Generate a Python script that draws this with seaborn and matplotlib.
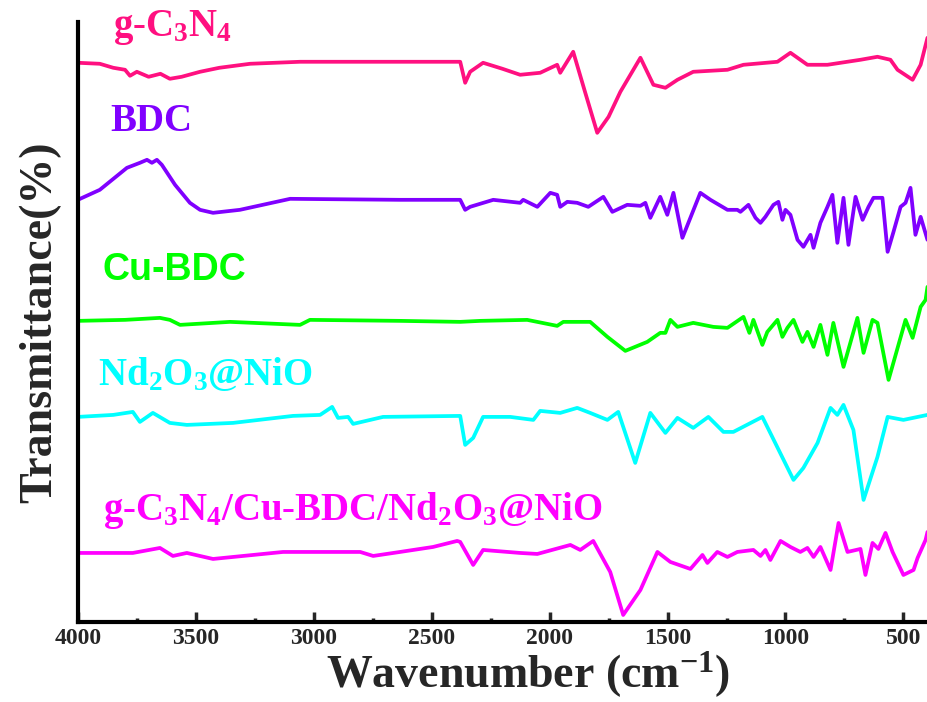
import numpy as np
import pandas as pd
import matplotlib
matplotlib.use("Agg")
import matplotlib.pyplot as plt
import seaborn as sns

# ---- data (wavenumber cm-1, transmittance a.u. with stacking offsets) ----
gcn_wn = [4000, 3907, 3850, 3800, 3779, 3750, 3700, 3650, 3610, 3560, 3482, 3400, 3270, 3058, 2800,
          2634, 2379, 2358, 2337, 2282, 2200, 2125, 2040, 1968, 1955, 1900, 1850, 1798, 1750,
          1700, 1615, 1560, 1509, 1458, 1391, 1246, 1178, 1034, 979, 907, 822, 682, 610, 555,
          525, 461, 427, 398]
gcn_t = [559, 558, 554, 552, 546, 550, 545, 548, 543, 545, 550, 554, 558, 560, 560,
         560, 560, 539, 550, 559, 553, 547, 549, 557, 549, 570, 530, 489, 505,
         530, 564, 537, 534, 542, 550, 552, 557, 560, 569, 557, 557, 562, 565, 562,
         552, 542, 557, 584]

bdc_wn = [4000, 3907, 3792, 3737, 3707, 3686, 3665, 3644, 3588, 3525, 3482, 3427, 3313, 3100,
          2634, 2379, 2358, 2337, 2239, 2125, 2112, 2052, 1997, 1968, 1955, 1925, 1883, 1836,
          1772, 1734, 1671, 1615, 1594, 1573, 1543, 1531, 1501, 1475, 1437, 1361, 1318, 1246,
          1204, 1191, 1157, 1127, 1106, 1085, 1051, 1030, 1013, 1000, 979, 949, 924, 894, 881,
          852, 822, 801, 780, 754, 733, 703, 673, 648, 627, 589, 567, 542, 512, 491, 470,
          449, 427, 398]
bdc_t = [422, 432, 454, 459, 462, 459, 462, 457, 437, 419, 412, 409, 412, 423,
         422, 422, 412, 415, 422, 419, 422, 415, 429, 427, 415, 420, 419, 415,
         425, 410, 417, 416, 419, 404, 419, 425, 407, 429, 384, 429, 422, 412,
         412, 410, 417, 404, 399, 405, 417, 420, 402, 412, 407, 382, 375, 387, 374,
         399, 415, 427, 379, 424, 377, 425, 402, 415, 424, 424, 370, 390, 415, 419, 434,
         387, 405, 382]

cu_wn = [4000, 3800, 3652, 3610, 3567, 3355, 3058, 3016, 2634, 2379, 2294, 2095, 1968, 1942,
         1828, 1755, 1679, 1586, 1531, 1509, 1488, 1458, 1391, 1306, 1246, 1178, 1153, 1136,
         1098, 1077, 1034, 1013, 992, 966, 928, 907, 881, 852, 822, 797, 754, 695, 669, 631,
         610, 563, 491, 461, 427, 406, 398]
cu_t = [301, 302, 304, 302, 297, 300, 297, 302, 301, 300, 301, 302, 296, 300,
        300, 285, 271, 280, 289, 289, 302, 295, 299, 295, 294, 305, 289, 302,
        277, 290, 302, 285, 294, 302, 280, 290, 275, 297, 267, 299, 255, 304, 269, 302,
        299, 242, 302, 284, 315, 322, 335]

nd_wn = [4000, 3850, 3767, 3737, 3682, 3610, 3538, 3342, 3088, 2973, 2922, 2897, 2854, 2833,
         2706, 2379, 2358, 2324, 2282, 2167, 2069, 2040, 1955, 1883, 1828, 1755, 1709, 1637,
         1573, 1509, 1458, 1391, 1327, 1263, 1221, 1098, 966, 924, 864, 809, 780, 754, 712,
         669, 610, 567, 500, 398]
nd_t = [205, 207, 210, 200, 209, 199, 197, 199, 206, 207, 215, 204, 205, 198,
        205, 206, 177, 184, 205, 205, 202, 211, 209, 214, 209, 202, 210, 159,
        209, 189, 204, 194, 205, 190, 190, 205, 142, 154, 179, 214, 207, 217, 192,
        122, 165, 205, 202, 207]

comp_wn = [4000, 3850, 3767, 3652, 3597, 3538, 3427, 3257, 3130, 2918, 2803, 2748, 2634, 2494,
           2392, 2379, 2324, 2282, 2125, 2052, 1912, 1870, 1815, 1743, 1688, 1615, 1543, 1488,
           1403, 1352, 1331, 1289, 1246, 1204, 1136, 1106, 1085, 1064, 1021, 979, 937, 907,
           881, 852, 809, 775, 737, 682, 661, 631, 606, 576, 546, 500, 457, 440, 406, 398]
comp_t = [69, 69, 69, 74, 66, 69, 63, 67, 70, 70, 70, 66, 70, 75,
          81, 80, 57, 72, 69, 68, 77, 72, 81, 50, 7, 32, 70, 60,
          53, 67, 59, 70, 65, 70, 72, 66, 72, 62, 81, 75, 70, 74,
          65, 75, 52, 99, 70, 73, 47, 79, 73, 89, 70, 47, 52, 64, 82, 90]

labels = [r"g-C$_\mathbf{3}$N$_\mathbf{4}$", "BDC", "Cu-BDC",
          r"Nd$_\mathbf{2}$O$_\mathbf{3}$@NiO",
          r"g-C$_\mathbf{3}$N$_\mathbf{4}$/Cu-BDC/Nd$_\mathbf{2}$O$_\mathbf{3}$@NiO"]
colors = ["#FF1080", "#8000FF", "#00FF00", "#00FFFF", "#FF00FF"]
xticks = [4000, 3500, 3000, 2500, 2000, 1500, 1000, 500]

series = [(gcn_wn, gcn_t), (bdc_wn, bdc_t), (cu_wn, cu_t), (nd_wn, nd_t), (comp_wn, comp_t)]

# ---- style ----
sns.set_theme(style="white")
plt.rcParams["font.family"] = ["Liberation Serif", "DejaVu Serif"]
plt.rcParams["font.weight"] = "bold"
plt.rcParams["mathtext.fontset"] = "custom"
plt.rcParams["mathtext.rm"] = "Liberation Serif:bold"
plt.rcParams["mathtext.bf"] = "Liberation Serif:bold"
plt.rcParams["mathtext.it"] = "Liberation Serif:bold"

fig = plt.figure(figsize=(9.27, 7.02), dpi=100)
ax = fig.add_axes([0.084, 0.114, 0.916, 0.855])

for (wn, t), c in zip(series, colors):
    df = pd.DataFrame({"wn": wn, "t": t})
    sns.lineplot(data=df, x="wn", y="t", ax=ax, color=c, lw=2.7, estimator=None, sort=False,
                 solid_joinstyle="round", solid_capstyle="round")

ax.set_xlim(4000, 400)
ax.set_ylim(0, 600)
ax.set_yticks([])
ax.set_xticks(xticks)
ax.set_xticks(np.arange(3750, 400, -500), minor=True)
ax.set_xticklabels([str(v) for v in xticks], fontsize=17, fontweight="bold")
ax.tick_params(axis="x", which="major", direction="in", length=7, width=2.5, bottom=True, pad=4)
ax.tick_params(axis="x", which="minor", direction="in", length=3, width=2.5, bottom=True)
for s in ["top", "right"]:
    ax.spines[s].set_visible(False)
for s in ["left", "bottom"]:
    ax.spines[s].set_color("black")
    ax.spines[s].set_linewidth(3)

ax.set_xlabel(r"Wavenumber (cm$^{\mathbf{-1}}$)", fontsize=33, fontweight="bold")
ax.xaxis.set_label_coords(0.53, -0.046)
ax.set_ylabel("Transmittance(%)", fontsize=33, fontweight="bold", labelpad=12)

# series labels
label_pos = [(3851, 594), (3864, 500), (3894, 352), (3915, 247), (3894, 111)]
for (x, y), lab, c in zip(label_pos, labels, colors):
    if lab == "Cu-BDC":
        ax.text(x, y, lab, color=c, fontsize=27, fontweight="bold",
                family=["Liberation Sans", "DejaVu Sans"], va="center", ha="left")
    else:
        ax.text(x, y, lab, color=c, fontsize=28, fontweight="bold", va="center", ha="left")

fig.savefig("out.png", dpi=100, facecolor="white")
